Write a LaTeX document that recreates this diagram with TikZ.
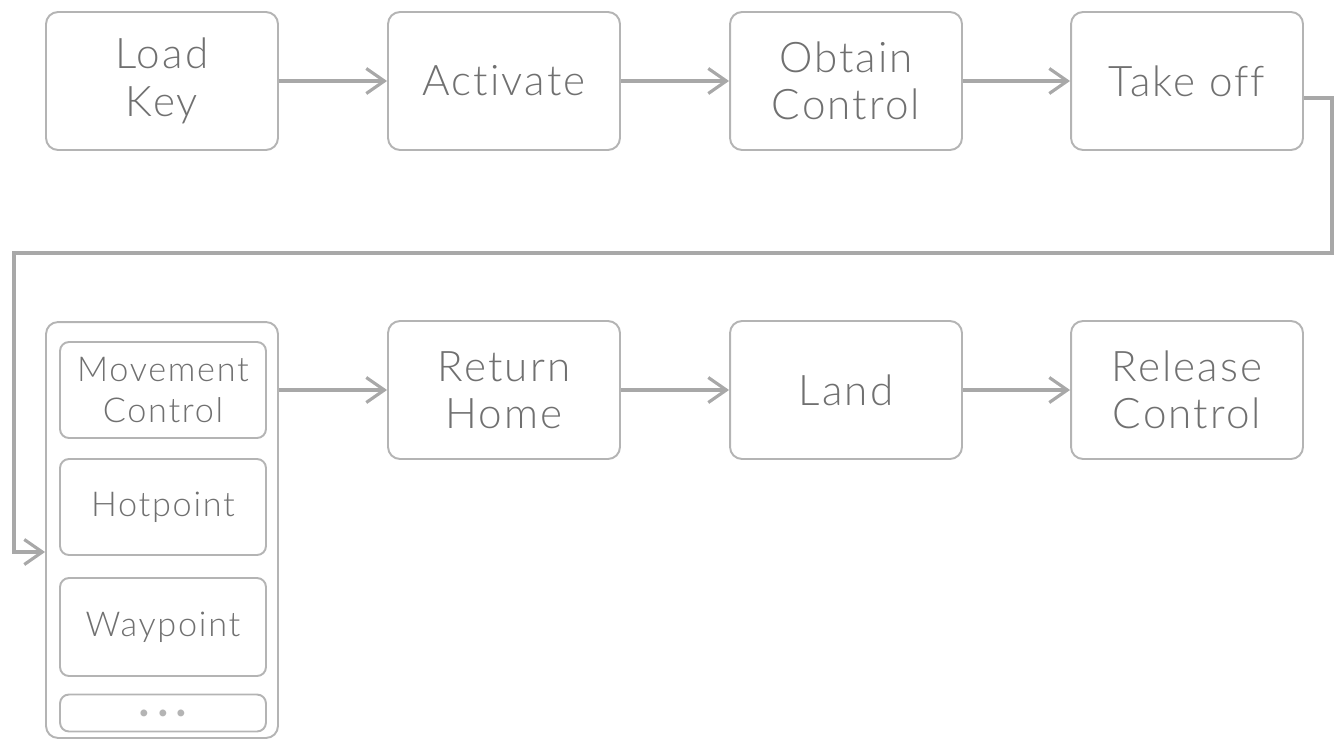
\documentclass[tikz,border=0pt]{standalone}
\usepackage{fontspec}
\IfFontExistsTF{Lato Light}{\setmainfont{Lato Light}[LetterSpace=5,Ligatures=NoCommon]}{\setmainfont{Lato}[LetterSpace=5,Ligatures=NoCommon]}
\usetikzlibrary{arrows.meta}
\definecolor{boxgray}{HTML}{B4B4B4}
\definecolor{linegray}{HTML}{A8A8A8}
\definecolor{textgray}{HTML}{707070}
\tikzset{>={Straight Barb[length=0.36cm,width=0.5cm]}}
\tikzset{step box/.style={draw=boxgray, line width=1.1pt, rounded corners=0.24cm,
    minimum width=4.64cm, minimum height=2.76cm, align=center, text=textgray,
    font=\fontsize{24}{27}\selectfont}}
\tikzset{sub box/.style={draw=boxgray, line width=1.1pt, rounded corners=0.18cm,
    minimum width=4.12cm, align=center, text=textgray,
    font=\fontsize{19.5}{23}\selectfont}}
\tikzset{flow/.style={draw=linegray, line width=1.8pt, ->}}

\begin{document}
\begin{tikzpicture}[x=0.02cm, y=-0.02cm]
        \useasboundingbox (0,0) rectangle (1334,740);

        % Top row
        \node at (162, 81) [step box] (loadkey) {Load\\Key};
        \node at (504, 81) [step box] (activate) {Activate};
        \node at (846, 81) [step box] (obtain) {Obtain\\Control};
        \node at (1187, 81) [step box] (takeoff) {Take off};

        % Mission container
        \node at (162, 530) [step box, minimum height=8.32cm] (container) {};
        \node at (163, 390) [sub box, minimum height=1.92cm] (movement) {Movement\\Control};
        \node at (163, 507) [sub box, minimum height=1.92cm] (hotpoint) {Hotpoint};
        \node at (163, 627) [sub box, minimum height=1.96cm] (waypoint) {Waypoint};
        \node at (163, 713) [sub box, minimum height=0.74cm, text=boxgray,
          font=\bfseries\fontsize{28}{28}\selectfont] (more) {.\hspace{4pt}.\hspace{4pt}.};

        % Bottom row
        \node at (504, 390) [step box] (rethome) {Return\\Home};
        \node at (846, 390) [step box] (land) {Land};
        \node at (1187, 390) [step box] (release) {Release\\Control};

        % Top row arrows
        \draw [flow] (loadkey) -- (activate);
        \draw [flow] (activate) -- (obtain);
        \draw [flow] (obtain) -- (takeoff);

        % Wrap around
        \coordinate (turn_a) at (1332, 98);
        \coordinate (turn_b) at (1332, 253);
        \coordinate (turn_c) at (14, 253);
        \coordinate (turn_d) at (14, 552);
        \draw [flow] (takeoff.east |- turn_a) -- (turn_a) -- (turn_b) -- (turn_c) -- (turn_d) -- (container.west |- turn_d);

        % Bottom row arrows
        \draw [flow] (container.east |- rethome) -- (rethome);
        \draw [flow] (rethome) -- (land);
        \draw [flow] (land) -- (release);
      \end{tikzpicture}
\end{document}
